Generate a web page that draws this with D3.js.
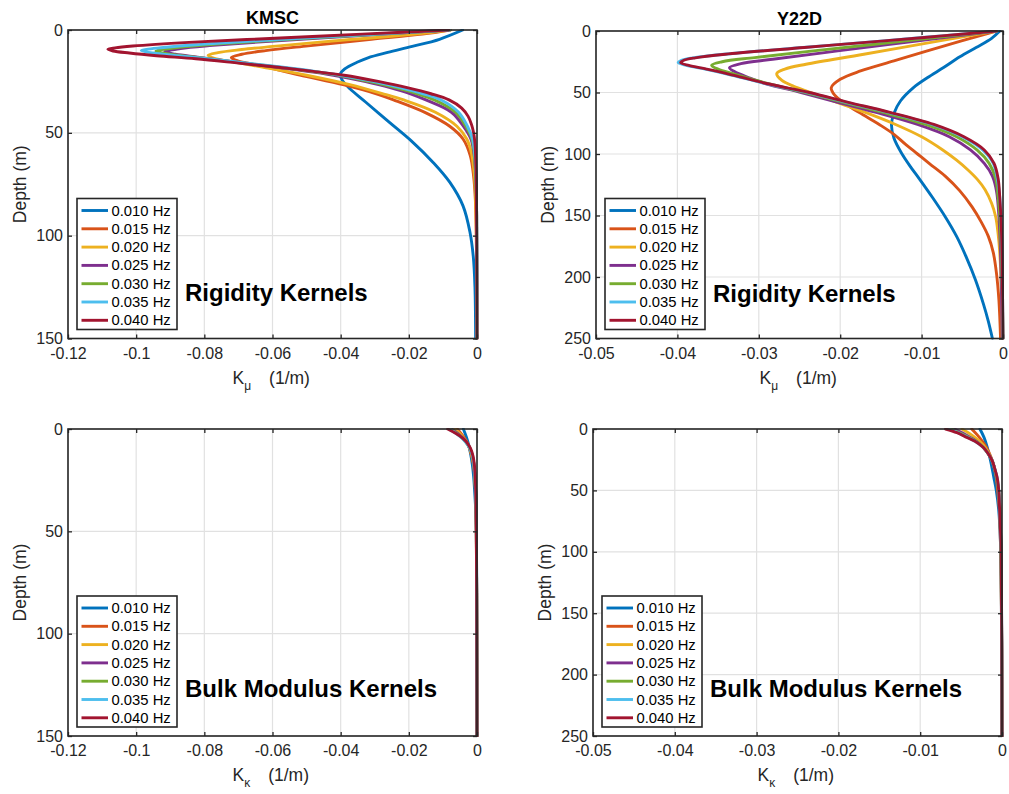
<!DOCTYPE html>
<html>
<head>
<meta charset="utf-8">
<script src="https://cdn.jsdelivr.net/npm/d3@7"></script>
<style>
  html, body { margin: 0; padding: 0; background: #fff; }
  svg { display: block; font-family: "Liberation Sans", Arial, Helvetica, sans-serif; }
</style>
</head>
<body>
<svg id="fig" width="1009" height="794"></svg>
<script>
// Frequencies of the seven modes (legend order, drawn first to last)
const frequencies = ["0.010 Hz", "0.015 Hz", "0.020 Hz", "0.025 Hz", "0.030 Hz", "0.035 Hz", "0.040 Hz"];
const seriesColors = ["#0072BD", "#D95319", "#EDB120", "#7E2F8E", "#77AC30", "#4DBEEE", "#A2142F"];

// Sensitivity kernels, one list of [depth (m), K (1/m)] per frequency

// KMSC – shear modulus (rigidity) kernels
const kmscRigidity = [
  [[0,-0.0042],[4.5,-0.0110],[8,-0.0190],[10.9,-0.0262],[13.5,-0.0320],[15.7,-0.0352],[18.9,-0.0388],[21.5,-0.0401],[24.5,-0.0395],[28.7,-0.0372],[35,-0.0327],[45,-0.0256],[54,-0.0192],[64.5,-0.0128],[74,-0.0080],[85.5,-0.0041],[98,-0.0021],[110,-0.0011],[125,-0.0006],[150,-0.0004]],
  [[0,-0.0078],[2,-0.0160],[4.5,-0.0310],[7.7,-0.0495],[10,-0.0620],[11.8,-0.0690],[13.4,-0.0721],[15,-0.0702],[16.5,-0.0662],[18.2,-0.0615],[21.9,-0.0520],[26.7,-0.0390],[30.8,-0.0300],[34,-0.0245],[40.3,-0.0150],[46.8,-0.0080],[53,-0.0041],[61,-0.0020],[71,-0.0010],[82,-0.0005],[100,-0.0002],[150,0]],
  [[0,-0.0079],[2,-0.0180],[4.5,-0.0363],[7.7,-0.0581],[9.5,-0.0690],[11,-0.0760],[12.3,-0.0789],[13.8,-0.0770],[15.5,-0.0715],[18,-0.0630],[22,-0.0500],[26.7,-0.0370],[30.8,-0.0280],[34,-0.0215],[40,-0.0122],[46.8,-0.0059],[53,-0.0030],[60,-0.0016],[70,-0.0008],[82,-0.0004],[100,-0.0002],[150,0]],
  [[0,-0.0080],[2.5,-0.0320],[5.6,-0.0620],[7.5,-0.0775],[9,-0.0870],[10.5,-0.0916],[11.8,-0.0885],[13.2,-0.0820],[14.8,-0.0745],[16.5,-0.0665],[18.5,-0.0570],[20.5,-0.0480],[22.5,-0.0405],[25,-0.0330],[28,-0.0255],[31,-0.0195],[34,-0.0150],[40,-0.0075],[46.8,-0.0040],[53,-0.0018],[60,-0.0009],[70,-0.0004],[90,-0.0001],[150,0]],
  [[0,-0.0080],[2.5,-0.0335],[5.3,-0.0620],[7.2,-0.0790],[8.8,-0.0890],[10.3,-0.0942],[11.5,-0.0910],[13,-0.0840],[14.5,-0.0765],[16,-0.0690],[18,-0.0585],[20,-0.0490],[22,-0.0405],[25,-0.0318],[28,-0.0240],[31,-0.0175],[34,-0.0125],[40,-0.0063],[46.8,-0.0033],[53,-0.0015],[60,-0.0008],[70,-0.0004],[90,-0.0001],[150,0]],
  [[0,-0.0080],[2.5,-0.0350],[5,-0.0620],[7,-0.0810],[8.5,-0.0920],[10,-0.0985],[11.2,-0.0950],[12.5,-0.0880],[14,-0.0790],[16,-0.0680],[18,-0.0575],[20,-0.0480],[22,-0.0400],[25,-0.0305],[28,-0.0225],[31,-0.0158],[34,-0.0105],[40,-0.0054],[46.8,-0.0028],[53,-0.0013],[60,-0.0007],[70,-0.0003],[90,-0.0001],[150,0]],
  [[0,-0.0083],[2,-0.0337],[4,-0.0593],[6,-0.0845],[7.8,-0.1010],[8.7,-0.1062],[9.4,-0.1083],[10.2,-0.1068],[11.2,-0.1020],[12.5,-0.0940],[14,-0.0825],[16,-0.0705],[18,-0.0590],[20,-0.0485],[22,-0.0390],[25,-0.0290],[28,-0.0205],[31,-0.0135],[34,-0.0082],[38,-0.0045],[42,-0.0026],[46,-0.0016],[50,-0.0010],[55,-0.0006],[62,-0.0004],[75,-0.0002],[100,-0.0001],[150,0]]
];

// Y22D – shear modulus (rigidity) kernels
const y22dRigidity = [
  [[0,-0.0004],[6,-0.0014],[13.4,-0.0033],[21,-0.0053],[29.7,-0.0073],[38,-0.0093],[46,-0.0110],[56.9,-0.0126],[67,-0.0134],[76,-0.0137],[87,-0.0134],[100,-0.0124],[110,-0.0114],[120,-0.0103],[135,-0.0087],[151,-0.0071],[167,-0.0057],[184,-0.0045],[202,-0.0034],[222,-0.0024],[236,-0.0018],[250,-0.0013]],
  [[0,-0.0008],[8,-0.0051],[16.2,-0.0093],[24.3,-0.0134],[32.5,-0.0175],[39.3,-0.0200],[46.1,-0.0211],[52,-0.0207],[60,-0.0192],[68,-0.0172],[76,-0.0152],[84,-0.0134],[92,-0.0120],[100,-0.0105],[108,-0.0090],[118,-0.0071],[130,-0.0053],[143,-0.0038],[155,-0.0027],[167,-0.0018],[180,-0.0012],[197,-0.0008],[219,-0.0005],[250,-0.0003]],
  [[0,-0.0008],[8,-0.0078],[18.9,-0.0171],[27,-0.0242],[31,-0.0268],[34.7,-0.0278],[40,-0.0272],[45,-0.0257],[50,-0.0236],[58,-0.0204],[66,-0.0170],[76,-0.0132],[86,-0.0100],[96.7,-0.0074],[105,-0.0057],[113,-0.0043],[121,-0.0031],[129,-0.0022],[140,-0.0014],[151,-0.0009],[165,-0.0006],[180,-0.0004],[210,-0.0002],[250,-0.0001]],
  [[0,-0.0008],[8,-0.0104],[16.2,-0.0203],[23,-0.0283],[26.5,-0.0322],[29.8,-0.0336],[33,-0.0330],[38,-0.0312],[42.9,-0.0291],[50,-0.0248],[58,-0.0203],[66,-0.0157],[76,-0.0105],[86,-0.0066],[96.7,-0.0040],[107.6,-0.0023],[118,-0.0013],[130,-0.0008],[151,-0.0005],[180,-0.0003],[250,-0.0001]],
  [[0,-0.0008],[8,-0.0119],[16.2,-0.0233],[21.6,-0.0305],[25,-0.0345],[27.9,-0.0358],[31,-0.0350],[35,-0.0330],[42.9,-0.0288],[50,-0.0243],[58,-0.0196],[66,-0.0148],[76,-0.0095],[86,-0.0057],[96.7,-0.0032],[107.6,-0.0017],[120,-0.0009],[135,-0.0006],[150,-0.0004],[180,-0.0002],[250,0]],
  [[0,-0.0008],[4,-0.0076],[8,-0.0147],[13.4,-0.0246],[18.9,-0.0343],[21.8,-0.0381],[23.8,-0.0395],[25.7,-0.0399],[28,-0.0389],[31,-0.0366],[35,-0.0339],[42.9,-0.0291],[50,-0.0240],[58,-0.0192],[66,-0.0142],[76,-0.0087],[86,-0.0050],[96.7,-0.0025],[107.6,-0.0012],[120,-0.0007],[135,-0.0004],[160,-0.0002],[250,0]],
  [[0,-0.0008],[4,-0.0075],[8,-0.0146],[13.4,-0.0244],[18.9,-0.0341],[21.8,-0.0378],[23.8,-0.0392],[25.7,-0.0396],[28,-0.0386],[31,-0.0364],[35,-0.0337],[42.9,-0.0289],[50,-0.0238],[58,-0.0190],[66,-0.0140],[76,-0.0085],[86,-0.0048],[96.7,-0.0023],[107.6,-0.0011],[120,-0.0006],[135,-0.0004],[160,-0.0002],[250,0]]
];

// KMSC – bulk modulus kernels
const kmscBulk = [
  [[0,-0.0040],[4,-0.0031],[8,-0.0024],[12,-0.0019],[17,-0.0014],[23,-0.0010],[30,-0.0007],[39,-0.0004],[50,-0.0002],[70,-0.0001],[150,0]],
  [[0,-0.0058],[3,-0.0043],[6,-0.0031],[9,-0.0023],[13,-0.0016],[18,-0.0010],[25,-0.0006],[35,-0.0004],[50,-0.0002],[80,-0.0001],[150,0]],
  [[0,-0.0065],[3,-0.0046],[6,-0.0032],[9,-0.0022],[13,-0.0015],[18,-0.0009],[25,-0.0006],[35,-0.0003],[50,-0.0002],[80,-0.0001],[150,0]],
  [[0,-0.0074],[2.5,-0.0054],[5,-0.0038],[8,-0.0025],[11,-0.0017],[15,-0.0011],[21,-0.0007],[30,-0.0004],[45,-0.0002],[80,-0.0001],[150,0]],
  [[0,-0.0078],[2.5,-0.0057],[5,-0.0040],[8,-0.0026],[11,-0.0017],[15,-0.0011],[21,-0.0007],[30,-0.0004],[45,-0.0002],[80,-0.0001],[150,0]],
  [[0,-0.0082],[2.5,-0.0059],[5,-0.0041],[8,-0.0026],[11,-0.0017],[15,-0.0011],[21,-0.0007],[30,-0.0004],[45,-0.0002],[80,-0.0001],[150,0]],
  [[0,-0.0086],[2,-0.0064],[4.5,-0.0042],[7,-0.0028],[9.5,-0.0019],[13,-0.0012],[17,-0.0008],[24,-0.0005],[35,-0.0003],[50,-0.0002],[80,-0.0001],[150,0]]
];

// Y22D – bulk modulus kernels
const y22dBulk = [
  [[0,-0.0027],[6.8,-0.0022],[14.9,-0.0018],[25.8,-0.0014],[39.4,-0.0010],[50,-0.0007],[66,-0.0004],[90,-0.0002],[120,-0.0001],[250,0]],
  [[0,-0.0037],[5,-0.0030],[10,-0.0024],[15,-0.0019],[22,-0.0014],[30,-0.0010],[40,-0.0007],[52,-0.0005],[68,-0.0003],[90,-0.0002],[120,-0.0001],[250,0]],
  [[0,-0.0049],[4,-0.0039],[8,-0.0031],[13,-0.0023],[19,-0.0017],[26,-0.0012],[35,-0.0008],[46,-0.0005],[60,-0.0003],[80,-0.0002],[110,-0.0001],[250,0]],
  [[0,-0.0058],[4,-0.0046],[8,-0.0036],[13,-0.0026],[19,-0.0018],[26,-0.0012],[35,-0.0008],[46,-0.0005],[60,-0.0003],[80,-0.0002],[110,-0.0001],[250,0]],
  [[0,-0.0062],[4,-0.0049],[8,-0.0037],[13,-0.0026],[19,-0.0018],[26,-0.0012],[35,-0.0008],[46,-0.0005],[60,-0.0003],[80,-0.0002],[110,-0.0001],[250,0]],
  [[0,-0.0066],[3,-0.0054],[6.8,-0.0042],[10,-0.0033],[14.9,-0.0023],[20,-0.0017],[25.8,-0.0012],[32,-0.0009],[39.4,-0.0006],[50,-0.0004],[64,-0.0003],[80,-0.0002],[100,-0.0001],[250,0]],
  [[0,-0.0069],[3,-0.0055],[6.8,-0.0043],[10,-0.0033],[14.9,-0.0023],[20,-0.0017],[25.8,-0.0012],[32,-0.0009],[39.4,-0.0006],[50,-0.0004],[64,-0.0003],[80,-0.0002],[100,-0.0001],[250,0]]
];

// Axis ticks
const kmscKTicks = [-0.12, -0.1, -0.08, -0.06, -0.04, -0.02, 0];
const y22dKTicks = [-0.05, -0.04, -0.03, -0.02, -0.01, 0];
const kmscDepthTicks = [0, 50, 100, 150];
const y22dDepthTicks = [0, 50, 100, 150, 200, 250];

// Panel layout
const panels = [
  { data: kmscRigidity, kTicks: kmscKTicks, dTicks: kmscDepthTicks, kDomain: [-0.12, 0], dDomain: [0, 150],
    box: { left: 68, right: 477, top: 30, bottom: 338.5 }, title: "KMSC", sub: "\u03bc", note: "Rigidity Kernels" },
  { data: y22dRigidity, kTicks: y22dKTicks, dTicks: y22dDepthTicks, kDomain: [-0.05, 0], dDomain: [0, 250],
    box: { left: 596, right: 1003, top: 31, bottom: 338.5 }, title: "Y22D", sub: "\u03bc", note: "Rigidity Kernels" },
  { data: kmscBulk, kTicks: kmscKTicks, dTicks: kmscDepthTicks, kDomain: [-0.12, 0], dDomain: [0, 150],
    box: { left: 68, right: 477, top: 429, bottom: 736 }, title: null, sub: "\u03ba", note: "Bulk Modulus Kernels" },
  { data: y22dBulk, kTicks: y22dKTicks, dTicks: y22dDepthTicks, kDomain: [-0.05, 0], dDomain: [0, 250],
    box: { left: 593, right: 1002, top: 429, bottom: 736 }, title: null, sub: "\u03ba", note: "Bulk Modulus Kernels" }
];

const svg = d3.select("#fig");
svg.append("rect").attr("width", 1009).attr("height", 794).attr("fill", "#fff");

const axisColor = "#262626";
const gridColor = "#e1e1e1";

panels.forEach((p, i) => {
  const b = p.box;
  const x = d3.scaleLinear().domain(p.kDomain).range([b.left, b.right]);
  const y = d3.scaleLinear().domain(p.dDomain).range([b.top, b.bottom]);
  const g = svg.append("g");

  // grid
  g.append("g").selectAll("line").data(p.kTicks).join("line")
    .attr("x1", d => x(d)).attr("x2", d => x(d)).attr("y1", b.top).attr("y2", b.bottom)
    .attr("stroke", gridColor).attr("stroke-width", 1.2);
  g.append("g").selectAll("line").data(p.dTicks).join("line")
    .attr("y1", d => y(d)).attr("y2", d => y(d)).attr("x1", b.left).attr("x2", b.right)
    .attr("stroke", gridColor).attr("stroke-width", 1.2);

  // curves
  const clipId = "clip" + i;
  svg.append("clipPath").attr("id", clipId).append("rect")
    .attr("x", b.left).attr("y", b.top - 1).attr("width", b.right - b.left + 2).attr("height", b.bottom - b.top + 2);
  const line = d3.line().x(d => x(d[1])).y(d => y(d[0])).curve(d3.curveCatmullRom.alpha(0.5));
  g.append("g").attr("clip-path", `url(#${clipId})`)
    .selectAll("path").data(p.data).join("path")
    .attr("d", line).attr("fill", "none")
    .attr("stroke", (d, j) => seriesColors[j]).attr("stroke-width", 2.9)
    .attr("stroke-linejoin", "round").attr("stroke-linecap", "round");

  // axes (inward ticks on all four sides)
  const fmt = d => String(d);
  const ax = g.append("g").attr("transform", `translate(0,${b.bottom})`)
    .call(d3.axisBottom(x).tickValues(p.kTicks).tickFormat(fmt).tickSize(-4).tickSizeOuter(0).tickPadding(9));
  const at = g.append("g").attr("transform", `translate(0,${b.top})`)
    .call(d3.axisTop(x).tickValues(p.kTicks).tickFormat("").tickSize(-4).tickSizeOuter(0));
  const al = g.append("g").attr("transform", `translate(${b.left},0)`)
    .call(d3.axisLeft(y).tickValues(p.dTicks).tickFormat(fmt).tickSize(-4).tickSizeOuter(0).tickPadding(5));
  const ar = g.append("g").attr("transform", `translate(${b.right},0)`)
    .call(d3.axisRight(y).tickValues(p.dTicks).tickFormat("").tickSize(-4).tickSizeOuter(0));
  [ax, at, al, ar].forEach(a => {
    a.select(".domain").remove();
    a.selectAll("line").attr("stroke", axisColor).attr("stroke-width", 1.3);
    a.selectAll("text").attr("fill", axisColor).style("font-size", "16px")
      .style("font-family", "'Liberation Sans', Arial, Helvetica, sans-serif");
  });

  // frame
  g.append("rect").attr("x", b.left).attr("y", b.top)
    .attr("width", b.right - b.left).attr("height", b.bottom - b.top)
    .attr("fill", "none").attr("stroke", axisColor).attr("stroke-width", 1.6);

  // title
  if (p.title) {
    g.append("text").attr("x", (b.left + b.right) / 2).attr("y", b.top - 6.5)
      .attr("text-anchor", "middle").attr("font-weight", "bold").attr("font-size", 18)
      .attr("fill", "#000").text(p.title);
  }

  // x label: K_sub   (1/m)
  const xl = g.append("text").attr("x", (b.left + b.right) / 2 - 40).attr("y", b.bottom + 45)
    .attr("font-size", 17.5).attr("fill", axisColor);
  xl.append("tspan").text("K");
  xl.append("tspan").attr("dy", 6).attr("font-size", 12).text(p.sub);
  xl.append("tspan").attr("dy", -6).attr("dx", 18).text("(1/m)");

  // y label
  g.append("text").attr("transform", `translate(${b.left - 42},${(b.top + b.bottom) / 2}) rotate(-90)`)
    .attr("text-anchor", "middle").attr("font-size", 17.5).attr("fill", axisColor).text("Depth (m)");

  // legend
  const lw = 100, lh = 131;
  const lx = b.left + 9, ly = b.bottom - 9 - lh;
  const lg = g.append("g").attr("transform", `translate(${lx},${ly})`);
  lg.append("rect").attr("width", lw).attr("height", lh).attr("fill", "#fff")
    .attr("stroke", "#262626").attr("stroke-width", 1.6);
  frequencies.forEach((f, j) => {
    const cy = 12 + j * 18.3;
    lg.append("line").attr("x1", 4.5).attr("x2", 31).attr("y1", cy).attr("y2", cy)
      .attr("stroke", seriesColors[j]).attr("stroke-width", 2.9);
    lg.append("text").attr("x", 34.5).attr("y", cy + 5).attr("font-size", 14.8)
      .attr("fill", "#000").text(f);
  });

  // panel annotation
  g.append("text").attr("x", b.left + 117).attr("y", b.top + (p.title ? 271 : 268))
    .attr("font-size", 24).attr("font-weight", "bold").attr("fill", "#000").text(p.note);
});
</script>
</body>
</html>
